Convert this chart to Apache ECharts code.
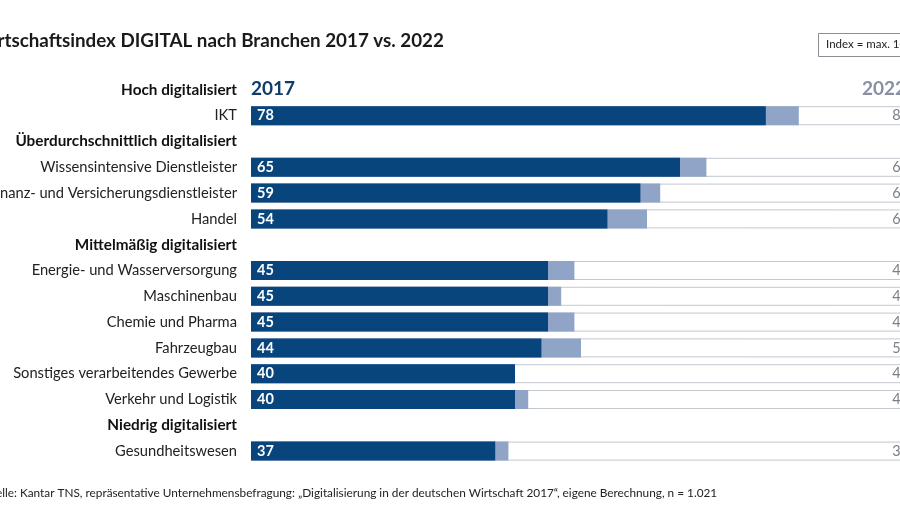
<!DOCTYPE html>
<html>
<head>
<meta charset="utf-8">
<script src="https://cdn.jsdelivr.net/npm/echarts@6/dist/echarts.min.js"></script>
<style>html,body{margin:0;padding:0;background:#fff;}#c{width:900px;height:506px;}</style>
</head>
<body>
<div id="c"></div>
<script>
const rows = ['Hoch digitalisiert','IKT','Überdurchschnittlich digitalisiert','Wissensintensive Dienstleister','Finanz- und Versicherungsdienstleister','Handel','Mittelmäßig digitalisiert','Energie- und Wasserversorgung','Maschinenbau','Chemie und Pharma','Fahrzeugbau','Sonstiges verarbeitendes Gewerbe','Verkehr und Logistik','Niedrig digitalisiert','Gesundheitswesen'];
const headers = ['Hoch digitalisiert','Überdurchschnittlich digitalisiert','Mittelmäßig digitalisiert','Niedrig digitalisiert'];
const v2017 = [null,78,null,65,59,54,null,45,45,45,44,40,40,null,37];
const v2022 = [null,83,null,69,62,60,null,49,47,49,50,40,42,null,39];
const indexMax = 100;
const titleText = 'Wirtschaftsindex DIGITAL nach Branchen 2017 vs. 2022';
const sourceText = 'Quelle: Kantar TNS, repräsentative Unternehmensbefragung: „Digitalisierung in der deutschen Wirtschaft 2017“, eigene Berechnung, n = 1.021';

const FONT = 'Lato';
const NAVY = '#08457d';
const LIGHT = '#8fa4c7';

const chart = echarts.init(document.getElementById('c'), null, {renderer:'canvas'});
const dash = v => v == null ? '-' : v;

chart.setOption({
  animation: false,
  backgroundColor: '#fff',
  textStyle: {fontFamily: FONT},
  grid: {left: 251, top: 77, width: 660, height: 387, containLabel: false, outerBoundsMode: 'none'},
  xAxis: {type: 'value', min: 0, max: indexMax, show: false},
  yAxis: {
    type: 'category', data: rows, inverse: true,
    axisLine: {show: false}, axisTick: {show: false},
    axisLabel: {
      margin: 14, fontFamily: FONT,
      formatter: v => headers.includes(v) ? '{h|' + v + '}' : '{n|' + v + '}',
      rich: {
        h: {fontFamily: FONT, fontWeight: 'bold', fontSize: 15.3, color: '#111'},
        n: {fontFamily: FONT, fontSize: 14.7, color: '#222'}
      }
    }
  },
  series: [
    {
      type: 'bar', name: 'track', barWidth: 19, barGap: '-100%',
      data: v2017.map(v => v == null ? '-' : indexMax),
      itemStyle: {color: '#fff', borderColor: '#c3c7ce', borderWidth: 1},
      label: {
        show: true, position: 'insideRight', distance: 2,
        fontFamily: FONT, fontSize: 14.5, color: '#7a7f88',
        formatter: p => v2022[p.dataIndex]
      },
      silent: true
    },
    {
      type: 'bar', name: '2022', barWidth: 19, barGap: '-100%',
      data: v2022.map(dash),
      itemStyle: {color: LIGHT}
    },
    {
      type: 'bar', name: '2017', barWidth: 19, barGap: '-100%',
      data: v2017.map(dash),
      itemStyle: {color: NAVY},
      label: {
        show: true, position: 'insideLeft', distance: 6,
        fontFamily: FONT, fontWeight: 'bold', fontSize: 14.5, color: '#fff'
      }
    }
  ],
  graphic: [
    {type: 'text', left: -27, top: 31, style: {text: titleText, fontFamily: FONT, fontWeight: 'bold', fontSize: 18.8, fill: '#1a1a1a'}},
    {type: 'rect', shape: {x: 818.5, y: 33.5, width: 120, height: 23}, style: {fill: '#fff', stroke: '#8a8f96', lineWidth: 1}},
    {type: 'text', left: 826, top: 38, style: {text: 'Index = max. 100', fontFamily: FONT, fontSize: 11.5, fill: '#222'}},
    {type: 'text', left: 251, top: 79, style: {text: '2017', fontFamily: FONT, fontWeight: 'bold', fontSize: 19, fill: '#103c6a'}},
    {type: 'text', left: 862, top: 79, style: {text: '2022', fontFamily: FONT, fontWeight: 'bold', fontSize: 19, fill: '#8791a3'}},
    {type: 'text', left: -20, top: 487, style: {text: sourceText, fontFamily: FONT, fontSize: 11.8, fill: '#222'}}
  ]
});
</script>
</body>
</html>
